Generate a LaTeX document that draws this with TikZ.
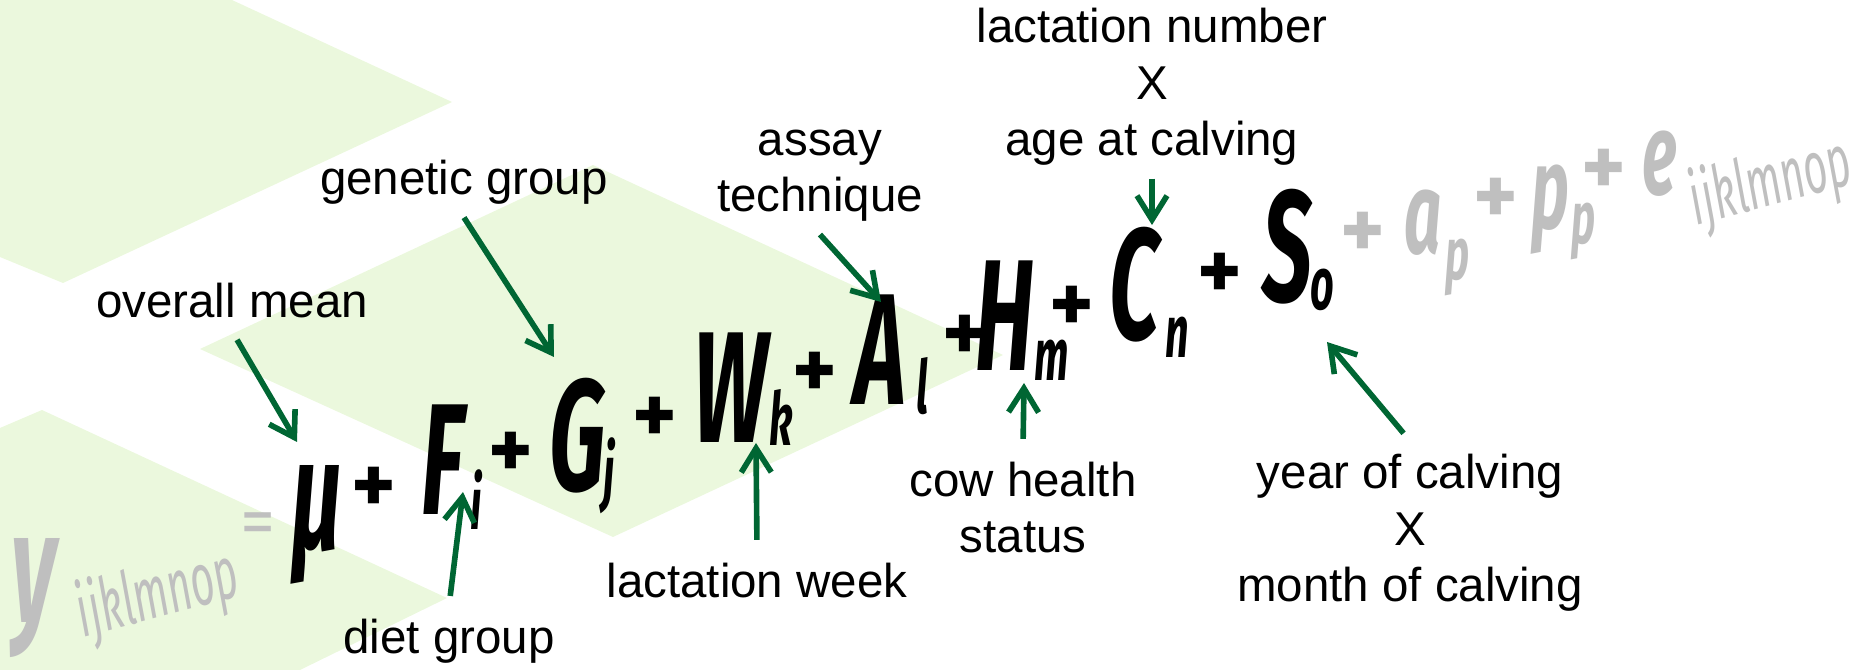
\documentclass[tikz,border=0pt]{standalone}
\usepackage{fontspec}
\setmainfont{Liberation Sans}
\newfontfamily\handfont{Fira Sans}
\usepackage{graphicx}
\usetikzlibrary{arrows.meta}

\definecolor{leafgreen}{RGB}{235,248,221}
\definecolor{arrowgreen}{RGB}{0,102,51}
\definecolor{ghostgray}{RGB}{191,191,191}

\newcommand{\hand}[1]{\scalebox{0.56}[1]{#1}}

\begin{document}
\begin{tikzpicture}[
    x=0.01cm, y=-0.01cm,
    remark/.style={font=\fontsize{13.5}{16.2}\selectfont, align=center, anchor=base, inner sep=1.2mm},
    term/.style={font=\handfont\bfseries\itshape\fontsize{45}{45}\selectfont, inner sep=0pt},
    smallterm/.style={font=\handfont\bfseries\itshape\fontsize{33}{33}\selectfont, inner sep=0pt},
    subidx/.style={font=\handfont\bfseries\itshape\fontsize{21}{21}\selectfont, inner sep=0pt},
    indexword/.style={font=\handfont\itshape\fontsize{21}{21}\selectfont, inner sep=0pt, rotate=15},
    plussign/.style={font=\handfont\bfseries\fontsize{24}{24}\selectfont, inner sep=0pt},
    faded/.style={text=ghostgray},
    callout/.style={-{Straight Barb[length=2.4mm, width=3mm]}, line width=1.6pt, draw=arrowgreen},
    plain/.style={shorten <=1mm}
]
\useasboundingbox (0,0) rectangle (1865,670);

% Background chevrons
\fill[leafgreen] (0,0) -- (232,0) -- (452,102) -- (63,283) -- (0,257) -- cycle;
\fill[leafgreen] (200,349) -- (593,165) -- (1003,355) -- (613,537) -- cycle;
\fill[leafgreen] (0,428) -- (42,410) -- (447,598) -- (300,670) -- (0,670) -- cycle;

% Model terms
\node[term, faded] (y) at (34,598) {\hand{y}};
\node[indexword, faded] (yidx) at (158,596) {\hand{ijklmnop}};
\node[faded, inner sep=0pt, font=\handfont\fontsize{20}{20}\selectfont] (eq) at (258,529) {=};
\node[term] (mu) at (317,525) {\hand{μ}};
\node[term] (F) at (443,460) {\hand{F}};
\node[term] (G) at (578,436) {\hand{G}};
\node[term] (W) at (731,388) {\hand{W}};
\node[term] (A) at (880,350) {\hand{A}};
\node[term] (H) at (1005,316) {\hand{H}};
\node[term] (C) at (1135,285) {\hand{C}};
\node[term] (S) at (1287,247) {\hand{S}};
\node[smallterm, faded] (a) at (1423,223) {\hand{a}};
\node[subidx, faded] (apidx) at (1458,268) {\hand{p}};
\node[smallterm, faded] (p) at (1550,210) {\hand{p}};
\node[subidx, faded] (ppidx) at (1584,232) {\hand{p}};
\node[smallterm, faded] (e) at (1660,164) {\hand{e}};
\node[indexword, faded] (eidx) at (1771,184) {\hand{ijklmnop}};

\foreach \name/\px/\py in {i/476/500, j/609/476, k/781/417, l/922/386, m/1052/360, n/1177/337, o/1322/290}
    \node[subidx] (sub\name) at (\px,\py) {\hand{\name}};

\foreach \px/\py [count=\k] in {374/490, 511/455, 655/420, 815/375, 965/338, 1072/309, 1220/276}
    \node[plussign] (plus\k) at (\px,\py) {+};
\foreach \px/\py [count=\k] in {1363/235, 1496/201, 1604/172}
    \node[plussign, faded] (gplus\k) at (\px,\py) {+};

% Labels
\node[remark] (mean) at (232,318) {overall mean};
\node[remark] (genetic) at (464,195) {genetic group};
\node[remark] (assay) at (820,212) {assay\\technique};
\node[remark] (number) at (1152,156) {lactation number\\X\\age at calving};
\node[remark] (diet) at (449,653) {diet group};
\node[remark] (week) at (757,597) {lactation week};
\node[remark] (health) at (1023,553) {cow health\\status};
\node[remark] (year) at (1410,602) {year of calving\\X\\month of calving};

% Arrow tips
\coordinate (muTip) at (297,442);
\coordinate (gTip) at (554,357);
\coordinate (aTip) at (881,302);
\coordinate (cTip) at (1152,225);
\coordinate (fTip) at (463,492);
\coordinate (wTip) at (756,443);
\coordinate (hTip) at (1024,383);
\coordinate (sTip) at (1327,342);

\draw[callout, plain] (mean.south) -- (muTip);
\draw[callout] (genetic.south) -- (gTip);
\draw[callout] (assay.south) -- (aTip);
\draw[callout] (number.south) -- (cTip);
\draw[callout, plain] (diet.north) -- (fTip);
\draw[callout, plain] (week.north) -- (wTip);
\draw[callout, plain] (health.north) -- (hTip);
\draw[callout, plain] (year.north) -- (sTip);

\end{tikzpicture}
\end{document}
